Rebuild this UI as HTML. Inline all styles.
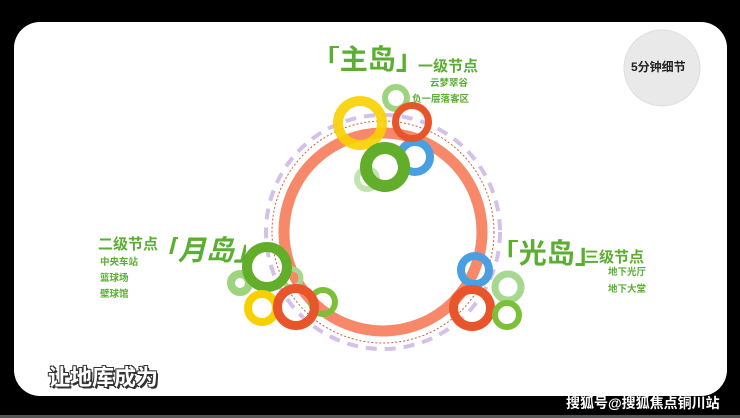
<!DOCTYPE html>
<html><head><meta charset="utf-8"><style>
body{margin:0;width:740px;height:418px;background:#000;overflow:hidden;position:relative;font-family:"Liberation Sans","Noto Sans CJK SC",sans-serif}
.card{position:absolute;left:14px;top:22px;width:713px;height:374px;background:#fff;border-radius:26px}
.t{position:absolute;color:#5aae30;font-weight:bold;white-space:nowrap;line-height:1}
.big{font-size:28px}
.mid{font-size:15px}
.sm{font-size:9.5px}
.ob{display:inline-block;width:.42em;overflow:hidden;vertical-align:top}
.ob span{display:inline-block;margin-left:-.58em}
.cb{display:inline-block;width:.42em;overflow:hidden;vertical-align:top}
</style></head><body>
<div class="card"></div>
<div style="position:absolute;left:0;top:415px;width:740px;height:3px;background:#555"></div>
<svg style="position:absolute;left:0;top:0" width="740" height="418">
<circle cx="662" cy="68" r="38" fill="#e9e9e9" stroke="#ddd"/>
<circle cx="383" cy="232" r="117" fill="none" stroke="#d4c0e8" stroke-width="4" stroke-dasharray="11 8"/>
<circle cx="383" cy="232" r="111" fill="none" stroke="#d0603a" stroke-width="1" stroke-dasharray="2 2"/>
<circle cx="383" cy="232" r="99" fill="none" stroke="#f7896a" stroke-width="11"/>
<g fill="none">
<circle cx="367" cy="179" r="10" stroke="#a6d890" stroke-width="6" opacity=".7"/>
<circle cx="396" cy="98" r="11" stroke="#9ed47e" stroke-width="6"/>
<circle cx="415" cy="157" r="15" stroke="#4a9fe0" stroke-width="8"/>
<circle cx="360" cy="123" r="22" stroke="#f8d000" stroke-width="10" opacity=".9"/>
<circle cx="412" cy="122" r="16.5" stroke="#e8552a" stroke-width="7"/>
<circle cx="385" cy="167" r="19" stroke="#62ad2a" stroke-width="12"/>
<circle cx="292" cy="278" r="9" stroke="#a6d890" stroke-width="5"/>
<circle cx="240" cy="283" r="9" stroke="#9ed47e" stroke-width="8"/>
<circle cx="267" cy="267" r="20" stroke="#62ad2a" stroke-width="10"/>
<circle cx="262" cy="308" r="14" stroke="#f8d000" stroke-width="8"/>
<circle cx="323" cy="302" r="12" stroke="#7cc03a" stroke-width="6"/>
<circle cx="296" cy="307" r="18.5" stroke="#e8552a" stroke-width="9"/>
<circle cx="508" cy="287" r="13" stroke="#a6d890" stroke-width="7"/>
<circle cx="475" cy="270" r="14" stroke="#4a9fe0" stroke-width="8"/>
<circle cx="472" cy="308" r="18.5" stroke="#e8552a" stroke-width="9"/>
<circle cx="507" cy="315" r="12" stroke="#7cc03a" stroke-width="6"/>
</g>
</svg>
<div class="t" style="left:631px;top:61px;color:#222;font-size:12px">5分钟细节</div>
<div class="t big" style="left:328px;top:46px"><span class="ob"><span>「</span></span>主岛<span class="cb">」</span></div>
<div class="t mid" style="left:418px;top:59px">一级节点</div>
<div class="t sm" style="left:430px;top:79px">云梦翠谷</div>
<div class="t sm" style="left:412px;top:95px">负一层落客区</div>
<div class="t mid" style="left:98px;top:237px">二级节点</div>
<div class="t big" style="left:166px;top:237px;font-style:italic"><span class="ob"><span>「</span></span>月岛<span class="cb">」</span></div>
<div class="t sm" style="left:100px;top:258px">中央车站</div>
<div class="t sm" style="left:100px;top:274px">篮球场</div>
<div class="t sm" style="left:100px;top:290px">壁球馆</div>
<div class="t big" style="left:507px;top:240px"><span class="ob"><span>「</span></span>光岛<span class="cb">」</span></div>
<div class="t mid" style="left:584px;top:250px">三级节点</div>
<div class="t sm" style="left:608px;top:268px">地下光厅</div>
<div class="t sm" style="left:608px;top:285px">地下大堂</div>
<div style="position:absolute;left:48px;top:360px;color:#fff;font-size:22px;font-weight:bold;text-shadow:1px 1px 0 #333,2px 2px 0 #333,-1px -1px 0 #333,1px -1px 0 #333,-1px 1px 0 #333">让地库成为</div>
<div style="position:absolute;left:566px;top:393px;color:#fff;font-size:14px;font-weight:bold">搜狐号@搜狐焦点铜川站</div>
</body></html>
